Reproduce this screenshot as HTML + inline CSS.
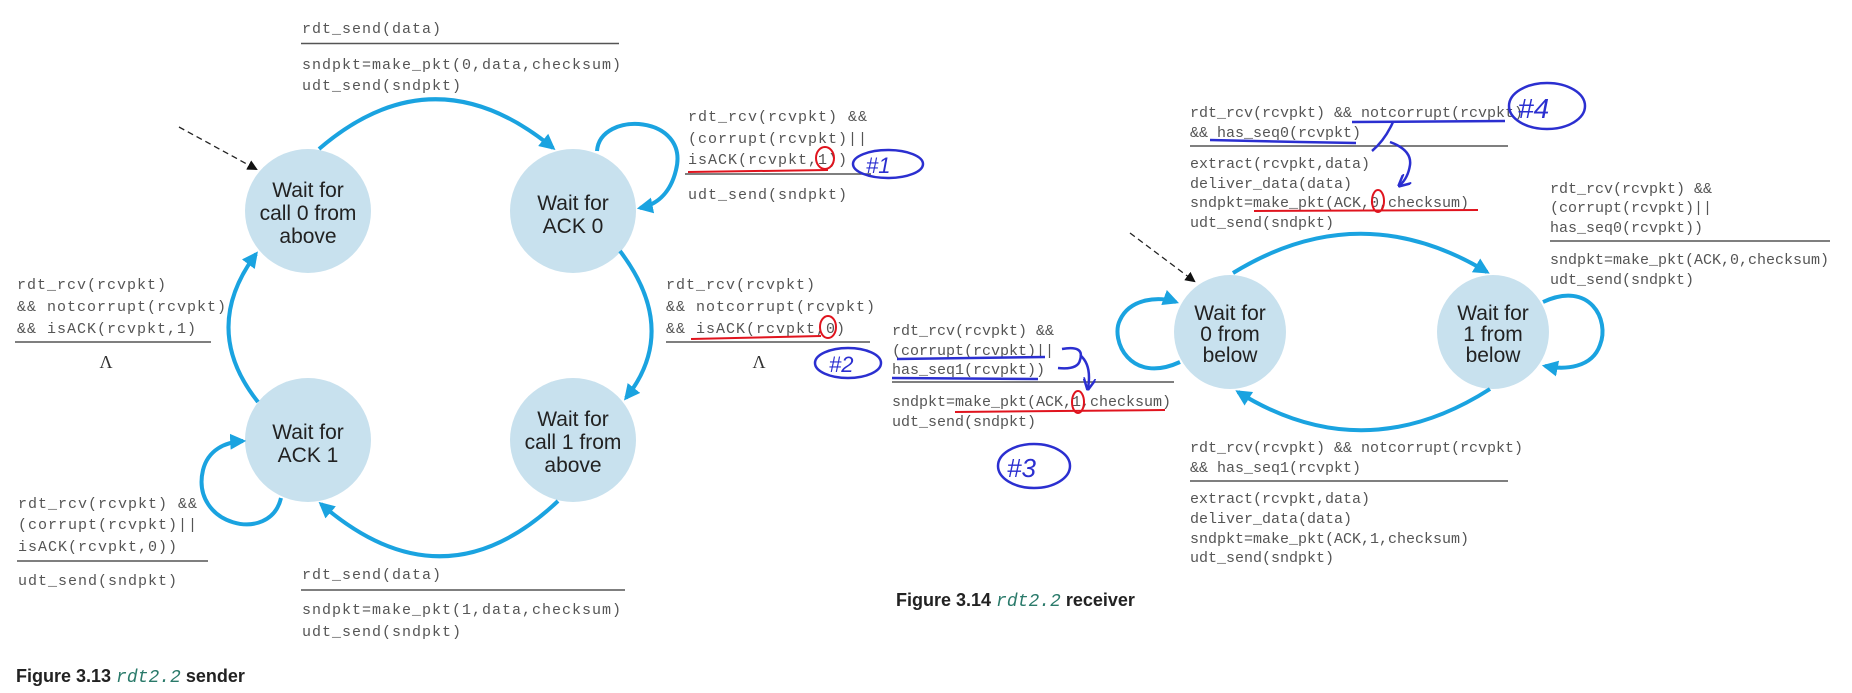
<!DOCTYPE html>
<html><head><meta charset="utf-8"><style>
html,body{margin:0;padding:0;background:#fff}
svg{display:block}
.m{font-family:"Liberation Mono",monospace;font-size:15px;fill:#555;letter-spacing:1px}
.r{font-family:"Liberation Mono",monospace;font-size:15px;fill:#555;letter-spacing:0px}
.c{font-family:"Liberation Sans",sans-serif;font-size:21px;fill:#222;text-anchor:middle}
.cap{font-family:"Liberation Sans",sans-serif;font-size:18px;font-weight:bold;fill:#222}
.capm{font-family:"Liberation Mono",monospace;font-size:18px;font-style:italic;fill:#2a7a6a;font-weight:normal}
.ln{stroke:#555;stroke-width:1.5}
.a{fill:none;stroke:#1aa3e0;stroke-width:4}
.rd{fill:none;stroke:#e0141e;stroke-width:2}
.bl{fill:none;stroke:#2b2fd0;stroke-width:2.5}
</style></head><body>
<svg width="1852" height="693" viewBox="0 0 1852 693" xmlns="http://www.w3.org/2000/svg">
<defs>
<marker id="ah" viewBox="0 0 10 10" refX="8" refY="5" markerWidth="4" markerHeight="4" orient="auto"><path d="M0,0 L10,5 L0,10 z" fill="#1aa3e0"/></marker>
<marker id="bk" viewBox="0 0 10 10" refX="8" refY="5" markerWidth="8" markerHeight="8" orient="auto"><path d="M0,0 L10,5 L0,10 z" fill="#111"/></marker>
<marker id="bb" viewBox="0 0 10 10" refX="8" refY="5" markerWidth="5" markerHeight="5" orient="auto"><path d="M0,0 L10,5 L0,10" fill="none" stroke="#2b2fd0" stroke-width="2"/></marker>
</defs>

<!-- SENDER -->
<text class="m" x="302" y="33">rdt_send(data)</text>
<line class="ln" x1="301" y1="43.5" x2="619" y2="43.5"/>
<text class="m" x="302" y="69">sndpkt=make_pkt(0,data,checksum)</text>
<text class="m" x="302" y="90">udt_send(sndpkt)</text>

<text class="m" x="688" y="121">rdt_rcv(rcvpkt) &amp;&amp;</text>
<text class="m" x="688" y="143">(corrupt(rcvpkt)||</text>
<text class="m" x="688" y="164">isACK(rcvpkt,1))</text>
<line class="ln" x1="685" y1="174" x2="871" y2="174"/>
<text class="m" x="688" y="199">udt_send(sndpkt)</text>

<text class="m" x="17" y="289">rdt_rcv(rcvpkt)</text>
<text class="m" x="17" y="311">&amp;&amp; notcorrupt(rcvpkt)</text>
<text class="m" x="17" y="333">&amp;&amp; isACK(rcvpkt,1)</text>
<line class="ln" x1="15" y1="342" x2="211" y2="342"/>
<text x="106" y="368" style="font-family:'Liberation Serif',serif;font-size:18px;fill:#333" text-anchor="middle">Λ</text>

<text class="m" x="666" y="289">rdt_rcv(rcvpkt)</text>
<text class="m" x="666" y="311">&amp;&amp; notcorrupt(rcvpkt)</text>
<text class="m" x="666" y="333">&amp;&amp; isACK(rcvpkt,0)</text>
<line class="ln" x1="666" y1="342" x2="870" y2="342"/>
<text x="759" y="368" style="font-family:'Liberation Serif',serif;font-size:18px;fill:#333" text-anchor="middle">Λ</text>

<text class="m" x="18" y="508">rdt_rcv(rcvpkt) &amp;&amp;</text>
<text class="m" x="18" y="529">(corrupt(rcvpkt)||</text>
<text class="m" x="18" y="551">isACK(rcvpkt,0))</text>
<line class="ln" x1="17" y1="561" x2="208" y2="561"/>
<text class="m" x="18" y="585">udt_send(sndpkt)</text>

<text class="m" x="302" y="579">rdt_send(data)</text>
<line class="ln" x1="301" y1="590" x2="625" y2="590"/>
<text class="m" x="302" y="614">sndpkt=make_pkt(1,data,checksum)</text>
<text class="m" x="302" y="636">udt_send(sndpkt)</text>

<text class="cap" x="16" y="682">Figure 3.13 <tspan class="capm">rdt2.2</tspan> sender</text>

<!-- sender states -->
<ellipse cx="308" cy="211" rx="63" ry="62" fill="#c8e1ee"/>
<text class="c" x="308" y="197">Wait for</text><text class="c" x="308" y="220">call 0 from</text><text class="c" x="308" y="243">above</text>
<ellipse cx="573" cy="211" rx="63" ry="62" fill="#c8e1ee"/>
<text class="c" x="573" y="210">Wait for</text><text class="c" x="573" y="233">ACK 0</text>
<ellipse cx="308" cy="440" rx="63" ry="62" fill="#c8e1ee"/>
<text class="c" x="308" y="439">Wait for</text><text class="c" x="308" y="462">ACK 1</text>
<ellipse cx="573" cy="440" rx="63" ry="62" fill="#c8e1ee"/>
<text class="c" x="573" y="426">Wait for</text><text class="c" x="573" y="449">call 1 from</text><text class="c" x="573" y="472">above</text>

<path class="a" d="M319,149 Q434,50 553,148" marker-end="url(#ah)"/>
<path class="a" d="M597,151 C600,110 690,115 676,170 C670,195 655,205 640,208" marker-end="url(#ah)"/>
<path class="a" d="M620,251 Q680,330 626,398" marker-end="url(#ah)"/>
<path class="a" d="M558,501 Q443,610 321,504" marker-end="url(#ah)"/>
<path class="a" d="M281,498 C270,545 190,525 203,470 C208,450 225,442 243,441" marker-end="url(#ah)"/>
<path class="a" d="M258,402 Q200,329 256,254" marker-end="url(#ah)"/>
<line x1="179" y1="127" x2="256" y2="169" stroke="#222" stroke-width="1.3" stroke-dasharray="6,4" marker-end="url(#bk)"/>

<!-- annotations sender -->
<path class="rd" d="M688,172 L828,170"/>
<ellipse class="rd" cx="825" cy="158" rx="9" ry="11"/>
<ellipse class="bl" cx="888" cy="164" rx="35" ry="14"/>
<text x="866" y="173" style="font-family:'Liberation Sans',sans-serif;font-size:22px;fill:#2b2fd0;font-style:italic">#1</text>
<path class="rd" d="M691,339 L821,336"/>
<ellipse class="rd" cx="828" cy="327" rx="8" ry="11"/>
<ellipse class="bl" cx="848" cy="363" rx="33" ry="15"/>
<text x="829" y="372" style="font-family:'Liberation Sans',sans-serif;font-size:22px;fill:#2b2fd0;font-style:italic">#2</text>

<!-- middle receiver text -->
<text class="r" x="892" y="335">rdt_rcv(rcvpkt) &amp;&amp;</text>
<text class="r" x="892" y="355">(corrupt(rcvpkt)||</text>
<text class="r" x="892" y="374">has_seq1(rcvpkt))</text>
<line class="ln" x1="892" y1="382" x2="1174" y2="382"/>
<text class="r" x="892" y="406">sndpkt=make_pkt(ACK,1,checksum)</text>
<text class="r" x="892" y="426">udt_send(sndpkt)</text>
<path class="bl" d="M897,359 L1045,357"/>
<path class="bl" d="M892,378 L1038,379"/>
<path class="bl" d="M1062,349 Q1085,345 1080,360 Q1078,370 1058,368"/>
<path class="bl" d="M1080,355 Q1092,365 1088,388" marker-end="url(#bb)"/>
<path class="rd" d="M955,412 L1165,410"/>
<ellipse class="rd" cx="1078" cy="402" rx="6" ry="11"/>
<ellipse class="bl" cx="1034" cy="466" rx="36" ry="22"/>
<text x="1007" y="477" style="font-family:'Liberation Sans',sans-serif;font-size:26px;fill:#2b2fd0;font-style:italic">#3</text>

<!-- RECEIVER -->
<text class="r" x="1190" y="117">rdt_rcv(rcvpkt) &amp;&amp; notcorrupt(rcvpkt)</text>
<text class="r" x="1190" y="137">&amp;&amp; has_seq0(rcvpkt)</text>
<line class="ln" x1="1190" y1="146" x2="1508" y2="146"/>
<text class="r" x="1190" y="168">extract(rcvpkt,data)</text>
<text class="r" x="1190" y="188">deliver_data(data)</text>
<text class="r" x="1190" y="207">sndpkt=make_pkt(ACK,0,checksum)</text>
<text class="r" x="1190" y="227">udt_send(sndpkt)</text>
<path class="bl" d="M1352,122 L1505,121"/>
<path class="bl" d="M1210,140 L1300,142 L1356,143"/>
<path class="bl" d="M1393,122 Q1385,140 1372,151"/>
<path class="bl" d="M1390,142 Q1412,150 1410,165 Q1408,178 1400,185" marker-end="url(#bb)"/>
<path class="rd" d="M1254,211 L1478,210"/>
<ellipse class="rd" cx="1378" cy="201" rx="6" ry="11"/>
<ellipse class="bl" cx="1547" cy="106" rx="38" ry="23"/>
<text x="1518" y="118" style="font-family:'Liberation Sans',sans-serif;font-size:28px;fill:#2b2fd0;font-style:italic">#4</text>

<text class="r" x="1550" y="193">rdt_rcv(rcvpkt) &amp;&amp;</text>
<text class="r" x="1550" y="212">(corrupt(rcvpkt)||</text>
<text class="r" x="1550" y="232">has_seq0(rcvpkt))</text>
<line class="ln" x1="1550" y1="241" x2="1830" y2="241"/>
<text class="r" x="1550" y="264">sndpkt=make_pkt(ACK,0,checksum)</text>
<text class="r" x="1550" y="284">udt_send(sndpkt)</text>

<ellipse cx="1230" cy="332" rx="56" ry="57" fill="#c8e1ee"/>
<text class="c" x="1230" y="320">Wait for</text><text class="c" x="1230" y="341">0 from</text><text class="c" x="1230" y="362">below</text>
<ellipse cx="1493" cy="332" rx="56" ry="57" fill="#c8e1ee"/>
<text class="c" x="1493" y="320">Wait for</text><text class="c" x="1493" y="341">1 from</text><text class="c" x="1493" y="362">below</text>

<path class="a" d="M1233,273 Q1360,195 1487,272" marker-end="url(#ah)"/>
<path class="a" d="M1490,389 Q1363,470 1238,392" marker-end="url(#ah)"/>
<path class="a" d="M1180,362 C1130,385 1110,340 1120,320 C1130,298 1160,296 1176,302" marker-end="url(#ah)"/>
<path class="a" d="M1543,302 C1590,280 1610,320 1600,345 C1592,368 1565,370 1545,366" marker-end="url(#ah)"/>
<line x1="1130" y1="233" x2="1194" y2="281" stroke="#222" stroke-width="1.3" stroke-dasharray="6,4" marker-end="url(#bk)"/>

<text class="r" x="1190" y="452">rdt_rcv(rcvpkt) &amp;&amp; notcorrupt(rcvpkt)</text>
<text class="r" x="1190" y="472">&amp;&amp; has_seq1(rcvpkt)</text>
<line class="ln" x1="1190" y1="481" x2="1508" y2="481"/>
<text class="r" x="1190" y="503">extract(rcvpkt,data)</text>
<text class="r" x="1190" y="523">deliver_data(data)</text>
<text class="r" x="1190" y="543">sndpkt=make_pkt(ACK,1,checksum)</text>
<text class="r" x="1190" y="562">udt_send(sndpkt)</text>

<text class="cap" x="896" y="606">Figure 3.14 <tspan class="capm">rdt2.2</tspan> receiver</text>
</svg>
</body></html>
